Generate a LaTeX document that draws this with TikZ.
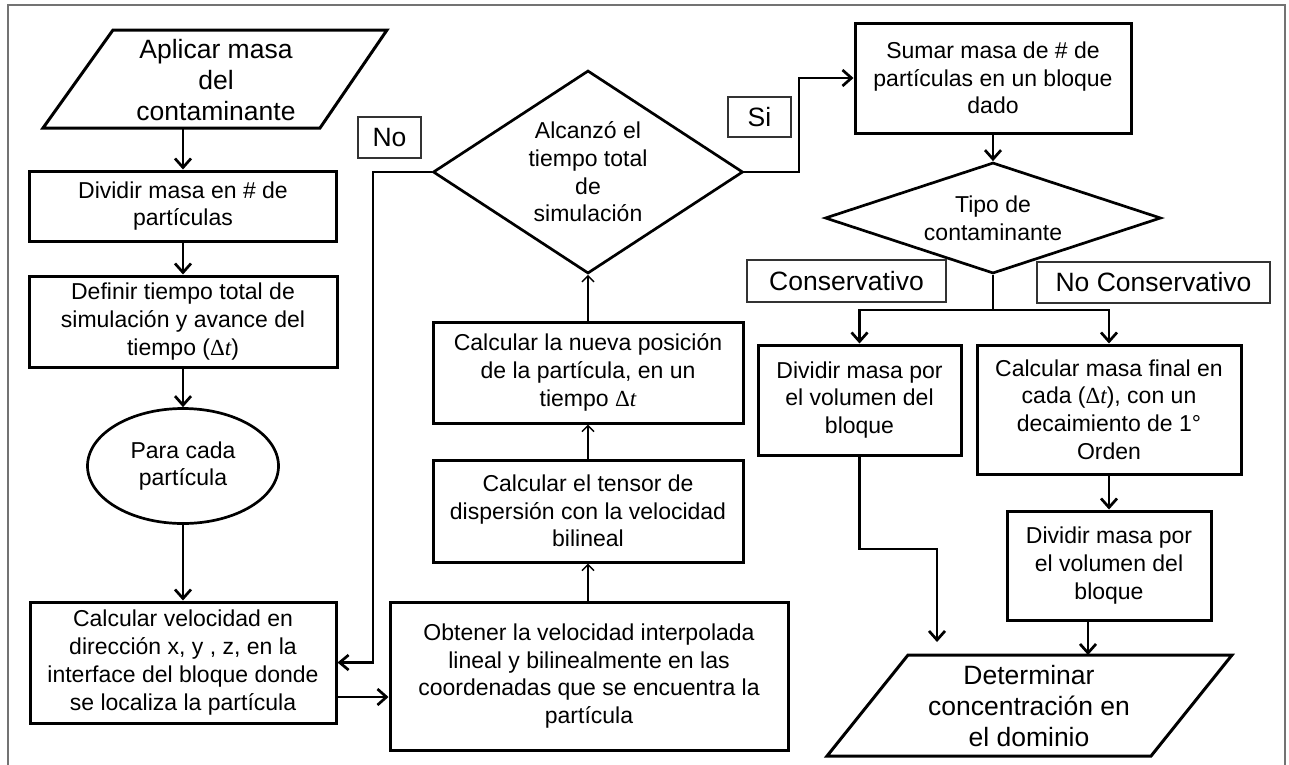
\documentclass[tikz,border=0pt]{standalone}
\usepackage{fontspec}
\setmainfont{Liberation Sans}
\newfontfamily\dtfont{Liberation Serif}
\usetikzlibrary{arrows.meta,shapes.geometric}
\newcommand{\fsbox}{\fontsize{23}{27.7}\selectfont}
\newcommand{\fsbig}{\fontsize{26.5}{31}\selectfont}
\newcommand{\dt}{{\dtfont Δ\itshape t}}
\begin{document}
\begin{tikzpicture}[x=1pt,y=-1pt,
  every node/.style={inner sep=0pt,align=center,text=black},
  box/.style={draw,rectangle,line width=3pt,font=\fsbox},
  dia/.style={draw,diamond,line width=2.7pt},
  lab/.style={draw=black!80,fill=white,rectangle,line width=1.4pt,font=\fsbig},
  para/.style={draw,line width=3pt,line join=miter},
  arr/.style={line width=2.7pt,-{Straight Barb[length=9pt,width=16pt]}},
  tarr/.style={line width=1.5pt,-{Straight Barb[length=6pt,width=12pt]}},
  ln/.style={line width=2.7pt}
]
\useasboundingbox (0,0) rectangle (1289,764);
\draw[black!55,line width=1.3pt] (8,5) rectangle (1285,775);

% ---------- left column ----------
\draw[para] (113,30) -- (387,30) -- (320,128) -- (43,128) -- cycle;
\node[font=\fsbig] (aplicar) at (216,80) {Aplicar masa\\del\\contaminante};
\coordinate (aplicarS) at (183,128);

\node[box,minimum width=307,minimum height=70] (dividir) at (183,206) {Dividir masa en \# de\\partículas};
\node[box,minimum width=308,minimum height=91] (definir) at (183,321.5) {Definir tiempo total de\\simulación y avance del\\tiempo (\dt)};
\node[draw,ellipse,line width=2.7pt,minimum width=191,minimum height=115,font=\fsbox] (cada) at (183,466) {Para cada\\partícula};
\node[box,minimum width=306,minimum height=121] (calcvel) at (183,662.5) {Calcular velocidad en\\dirección x, y , z,  en la\\interface del bloque donde\\se localiza la partícula};

\draw[arr] (aplicarS) -- (dividir.north);
\draw[arr] (dividir.south) -- (definir.north);
\draw[arr] (definir.south) -- (cada.north);
\draw[arr] (cada.south) -- (calcvel.north);

% ---------- middle column ----------
\node[dia,minimum width=310,minimum height=203] (alcanzo) at (588,172) {};
\node[font=\fsbox] (alcanzoT) at (588,172) {Alcanzó el\\tiempo total\\de\\simulación};
\node[box,minimum width=310,minimum height=101] (nueva) at (588,372.5) {Calcular la nueva posición\\de la partícula, en un\\tiempo \dt};
\node[box,minimum width=310,minimum height=102] (tensor) at (588,511) {Calcular el tensor de\\dispersión con la velocidad\\bilineal};
\node[box,minimum width=398,minimum height=148] (obtener) at (589,676) {Obtener la velocidad interpolada\\lineal y  bilinealmente en las\\coordenadas que se encuentra la\\partícula};

\coordinate (cvout) at ([yshift=-34.5pt]calcvel.east);
\draw[arr] (cvout) -- (cvout -| obtener.west);
\draw[tarr] (tensor.south |- obtener.north) -- (tensor.south);
\draw[tarr] (tensor.north) -- (nueva.south);
\draw[tarr] (nueva.north) -- (alcanzo.south);

\coordinate (nocorner) at (373,172);
\draw[line width=2.7pt,-{Straight Barb[length=9pt,width=15pt]}] (alcanzo.west) -- (nocorner) |- (calcvel.east);
\node[lab,minimum width=63,minimum height=41] (nolab) at (389.5,137.5) {No};

% ---------- right column ----------
\node[box,minimum width=276,minimum height=110] (sumar) at (993,78) {Sumar  masa  de  \# de\\partículas en un bloque\\dado};
\node[dia,minimum width=336,minimum height=111] (tipo) at (993,218) {};
\node[font=\fsbox] (tipoT) at (993,218) {Tipo de\\contaminante};
\draw[arr] (sumar.south) -- (tipo.north);

\coordinate (sicorner) at (799,172);
\draw[arr] (alcanzo.east) -- (sicorner) |- (sumar.west);
\node[lab,minimum width=63,minimum height=40] (silab) at (759.5,117) {Si};

\node[box,minimum width=203,minimum height=110] (dividirL) at (859.5,400) {Dividir masa por\\el volumen del\\bloque};
\node[box,minimum width=264,minimum height=129] (calcmasa) at (1109,409.5) {Calcular masa final en\\cada (\dt), con un\\decaimiento de 1°\\Orden};
\node[box,minimum width=204,minimum height=109] (dividirR) at (1109,565.5) {Dividir masa por\\el volumen del\\bloque};

\coordinate (split) at (993,310);
\draw[ln] (tipo.south) -- (split);
\draw[arr] (split) -| (dividirL.north);
\draw[arr] (split) -| (calcmasa.north);
\draw[arr] (calcmasa.south) -- (dividirR.north);

\node[lab,minimum width=199,minimum height=42] (conslab) at (846.5,281) {Conservativo};
\node[lab,minimum width=233,minimum height=41] (nconslab) at (1153.5,282.5) {No Conservativo};

\draw[para] (908,655) -- (1232,655) -- (1151,756) -- (827,756) -- cycle;
\node[font=\fsbig] (determinar) at (1029,706) {Determinar\\concentración en\\el dominio};

\coordinate (bendL) at (937,549);
\coordinate (detin) at (937,642);
\draw[arr] (dividirL.south) |- (bendL) -- (detin);
\coordinate (detTop) at (1088,655);
\draw[arr] (dividirR.south -| detTop) -- (detTop);
\end{tikzpicture}
\end{document}
